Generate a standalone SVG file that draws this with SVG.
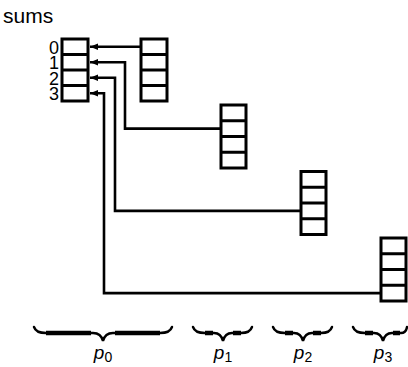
<svg xmlns="http://www.w3.org/2000/svg" width="408" height="367" viewBox="0 0 408 367">
<style>
.box{fill:#fff;stroke:#000;stroke-width:3}
.div{stroke:#000;stroke-width:3}
.con{fill:none;stroke:#000;stroke-width:2.6}
.t{font-family:"Liberation Sans",Arial,sans-serif;fill:#000}
.brace{fill:none;stroke:#000;stroke-width:2.4;stroke-linecap:round}
.thick{stroke:#000;stroke-width:4.5}
</style>
<defs>
<marker id="ah" markerUnits="userSpaceOnUse" markerWidth="10" markerHeight="8" refX="8" refY="4" orient="auto">
<path d="M0,0.8 L8,4 L0,7.2 Z" fill="#000"/>
</marker>
</defs>
<rect width="408" height="367" fill="#fff"/>
<text class="t" x="3" y="23" font-size="21">sums</text>

<g id="connectors">
<path class="con" d="M141,46.75 H90" marker-end="url(#ah)"/>
<path class="con" d="M221,128.6 H125 V62.25 H90" marker-end="url(#ah)"/>
<path class="con" d="M301,210.9 H115 V77.75 H90" marker-end="url(#ah)"/>
<path class="con" d="M381,293.1 H104 V93.25 H90" marker-end="url(#ah)"/>
</g>

<g id="sums">
<rect class="box" x="62" y="39" width="26" height="62"/>
<path class="div" d="M62,54.5H88M62,70H88M62,85.5H88"/>
<text class="t" font-size="18" text-anchor="end" x="59" y="53.5">0</text>
<text class="t" font-size="18" text-anchor="end" x="59" y="68.5">1</text>
<text class="t" font-size="18" text-anchor="end" x="59" y="84.5">2</text>
<text class="t" font-size="18" text-anchor="end" x="59" y="100">3</text>
</g>

<g id="arr0">
<rect class="box" x="141" y="39" width="26" height="62"/>
<path class="div" d="M141,54.5H167M141,70H167M141,85.5H167"/>
</g>
<g id="arr1">
<rect class="box" x="221" y="105" width="25" height="63"/>
<path class="div" d="M221,120.75H246M221,136.5H246M221,152.25H246"/>
</g>
<g id="arr2">
<rect class="box" x="301" y="171.5" width="25" height="63"/>
<path class="div" d="M301,187.25H326M301,203H326M301,218.75H326"/>
</g>
<g id="arr3">
<rect class="box" x="381" y="238" width="25" height="63"/>
<path class="div" d="M381,253.75H406M381,269.5H406M381,285.25H406"/>
</g>

<g id="brace0">
<path class="brace" d="M34,327 Q36,333 46,333 L93,333 Q101,333 103,341 Q105,333 113,333 L160,333 Q170,333 172,327"/>
<path class="thick" d="M46,333H91M115,333H160"/>
<text class="t" x="103" y="359" font-size="19" text-anchor="middle"><tspan font-style="italic">p</tspan><tspan font-size="14" dy="3">0</tspan></text>
</g>
<g id="brace1">
<path class="brace" d="M193,327 Q195,333 205,333 L214,333 Q221,333 223,341 Q225,333 232,333 L241,333 Q250,333 252,327"/>
<path class="thick" d="M205,333H213M233,333H241"/>
<text class="t" x="223" y="359" font-size="19" text-anchor="middle"><tspan font-style="italic">p</tspan><tspan font-size="14" dy="3">1</tspan></text>
</g>
<g id="brace2">
<path class="brace" d="M273,327 Q275,333 285,333 L294,333 Q301,333 303,341 Q305,333 312,333 L321,333 Q330,333 332,327"/>
<path class="thick" d="M285,333H293M313,333H321"/>
<text class="t" x="303" y="359" font-size="19" text-anchor="middle"><tspan font-style="italic">p</tspan><tspan font-size="14" dy="3">2</tspan></text>
</g>
<g id="brace3">
<path class="brace" d="M353,327 Q355,333 365,333 L374,333 Q381,333 383,341 Q385,333 392,333 L401,333 Q406,333 407,327"/>
<path class="thick" d="M365,333H373M393,333H400"/>
<text class="t" x="383" y="359" font-size="19" text-anchor="middle"><tspan font-style="italic">p</tspan><tspan font-size="14" dy="3">3</tspan></text>
</g>
</svg>
